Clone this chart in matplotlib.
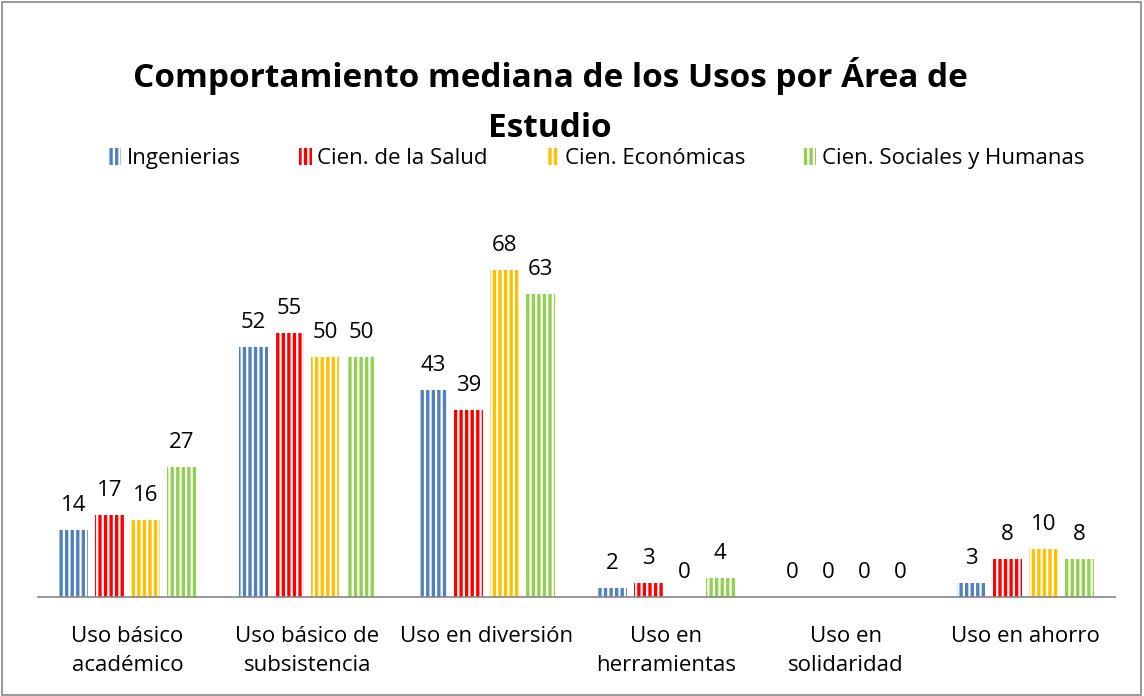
import matplotlib
matplotlib.use("Agg")
import matplotlib.pyplot as plt
import numpy as np
from matplotlib.patches import Rectangle

plt.rcParams['font.family'] = ['Open Sans', 'DejaVu Sans']
plt.rcParams['hatch.linewidth'] = 1.6

categories = ["Uso básico\nacadémico", "Uso básico de\nsubsistencia", "Uso en diversión",
              "Uso en\nherramientas", "Uso en\nsolidaridad", "Uso en ahorro"]
series_names = ["Ingenierias", "Cien. de la Salud", "Cien. Económicas", "Cien. Sociales y Humanas"]
ingenierias = [14, 52, 43, 2, 0, 3]
salud = [17, 55, 39, 3, 0, 8]
economicas = [16, 50, 68, 0, 0, 10]
sociales = [27, 50, 63, 4, 0, 8]
series = [ingenierias, salud, economicas, sociales]
colors = ["#4F81BD", "#FF0000", "#FFC000", "#92D050"]

fig = plt.figure(figsize=(11.44, 6.96), dpi=100)
ax = fig.add_axes([0.033, 0.142, 0.942, 0.553])
x = np.arange(len(categories))
w = 0.16
for i, (vals, c, name) in enumerate(zip(series, colors, series_names)):
    bars = ax.bar(x + (i - 1.5) * 0.2, vals, w, color=c, edgecolor="white",
                  hatch="|||", linewidth=0, label=name)
    for b, v in zip(bars, vals):
        ax.annotate(str(v), (b.get_x() + b.get_width() / 2, v), xytext=(0, 10),
                    textcoords="offset points", ha="center", va="bottom", fontsize=16)

ax.set_xlim(-0.5, len(categories) - 0.5)
ax.set_ylim(0, 80)
ax.set_yticks([])
ax.set_xticks(x)
ax.set_xticklabels(categories, fontsize=16, linespacing=1.45)
ax.tick_params(axis="x", length=0, pad=21)
for s in ["top", "right", "left"]:
    ax.spines[s].set_visible(False)
ax.spines["bottom"].set_color("#868686")
ax.spines["bottom"].set_linewidth(1.2)

fig.text(0.481, 0.855, "Comportamiento mediana de los Usos por Área de\nEstudio",
         ha="center", va="center", fontsize=24, fontweight="bold", linespacing=1.65)
leg = fig.legend(loc="center", bbox_to_anchor=(0.521, 0.772), ncol=4, frameon=False,
                 fontsize=16, handlelength=0.6, handleheight=0.8, handletextpad=0.25,
                 columnspacing=2.6)

fig.patches.append(Rectangle((0.002, 0.002), 0.995, 0.995, transform=fig.transFigure,
                             fill=False, edgecolor="#868686", linewidth=1.2))
fig.savefig("out.png", dpi=100)
